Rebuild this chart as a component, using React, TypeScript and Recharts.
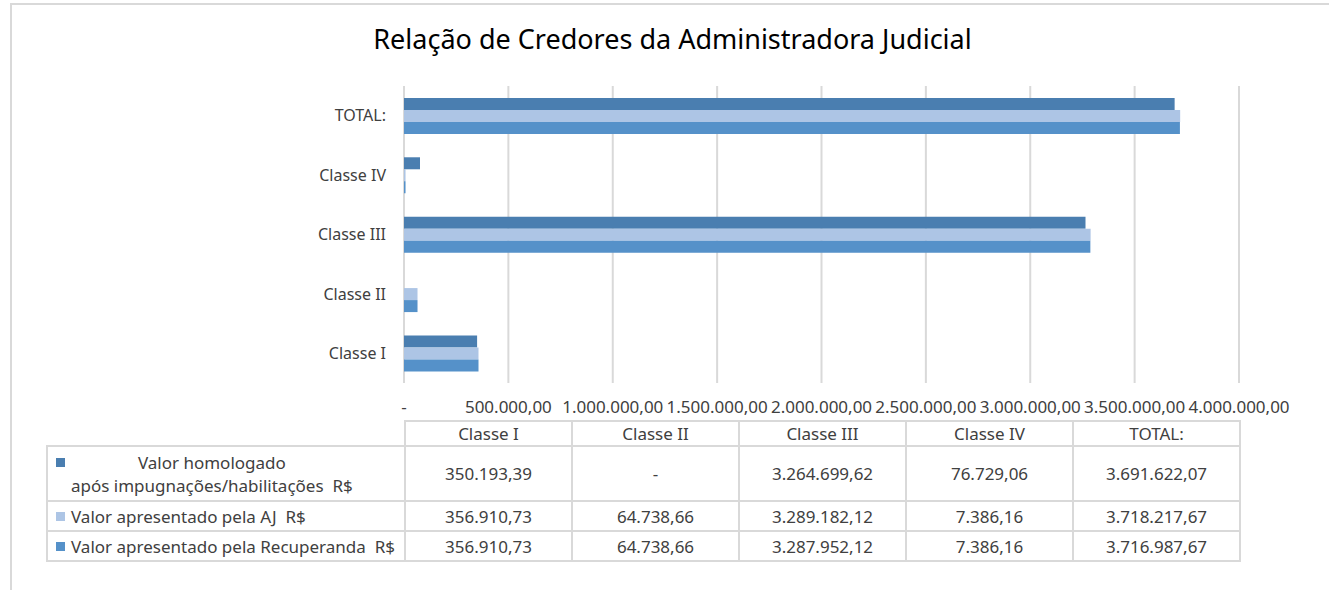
import React from "react";
import {
  BarChart,
  Bar,
  XAxis,
  YAxis,
  CartesianGrid,
} from "recharts";

const categories = ["Classe I", "Classe II", "Classe III", "Classe IV", "TOTAL:"];
const homologado = [350193.39, 0, 3264699.62, 76729.06, 3691622.07];
const apresentadoAJ = [356910.73, 64738.66, 3289182.12, 7386.16, 3718217.67];
const apresentadoRecuperanda = [356910.73, 64738.66, 3287952.12, 7386.16, 3716987.67];
const xTicks = [0, 500000, 1000000, 1500000, 2000000, 2500000, 3000000, 3500000, 4000000];

const SERIES = [
  { key: "homologado", values: homologado, color: "#4A7EB0", label: ["Valor homologado", "após impugnações/habilitações  R$"] },
  { key: "aj", values: apresentadoAJ, color: "#ADC5E5", label: ["Valor apresentado pela AJ  R$"] },
  { key: "recuperanda", values: apresentadoRecuperanda, color: "#5591C9", label: ["Valor apresentado pela Recuperanda  R$"] },
];

const FONT = "'Noto Sans', 'Open Sans', sans-serif";
const TEXT = "#404040";
const BORDER = "#d9d9d9";

// pt-BR money format, zero shown as a dash like the spreadsheet
function fmt(n: number) {
  if (n === 0) return "-";
  const [int, dec] = n.toFixed(2).split(".");
  return int.replace(/\B(?=(\d{3})+(?!\d))/g, ".") + "," + dec;
}

const data = categories.map((name, i) => ({
  name,
  homologado: homologado[i],
  aj: apresentadoAJ[i],
  recuperanda: apresentadoRecuperanda[i],
}));

const cell: React.CSSProperties = {
  border: `2px solid ${BORDER}`,
  textAlign: "center",
  padding: 0,
  whiteSpace: "pre",
};

export default function App() {
  return (
    <div
      style={{
        position: "absolute",
        left: 0,
        top: 0,
        width: 1329,
        height: 590,
        background: "#fff",
        fontFamily: FONT,
        color: TEXT,
        overflow: "hidden",
      }}
    >
      {/* chart frame edges */}
      <div style={{ position: "absolute", left: 10, top: 3, right: 0, height: 2, background: BORDER }} />
      <div style={{ position: "absolute", left: 10, top: 3, bottom: 0, width: 2, background: BORDER }} />

      <div
        style={{
          position: "absolute",
          top: 20,
          left: 0,
          width: 1345,
          textAlign: "center",
          fontSize: 27,
          color: "#000",
        }}
      >
        Relação de Credores da Administradora Judicial
      </div>

      <div style={{ position: "absolute", left: 0, top: 0 }}>
        <BarChart
          width={1329}
          height={430}
          data={data}
          layout="vertical"
          margin={{ top: 86, right: 90, left: 0, bottom: 17 }}
          barCategoryGap="20%"
          barGap={0}
        >
          <CartesianGrid horizontal={false} stroke={BORDER} strokeWidth={2} />
          <XAxis
            type="number"
            domain={[0, 4000000]}
            ticks={xTicks}
            interval={0}
            tickFormatter={(v: number) => fmt(v)}
            axisLine={false}
            tickLine={false}
            tickMargin={12}
            height={30}
            tick={{ fontSize: 17, fill: TEXT, fontFamily: FONT }}
          />
          <YAxis
            type="category"
            dataKey="name"
            reversed
            width={404}
            axisLine={false}
            tickLine={false}
            tickMargin={12}
            tick={{ fontSize: 16, fill: TEXT, fontFamily: FONT }}
          />
          {SERIES.map((s) => (
            <Bar key={s.key} dataKey={s.key} fill={s.color} isAnimationActive={false} />
          ))}
        </BarChart>
      </div>

      <table
        style={{
          position: "absolute",
          left: 46,
          top: 420,
          borderCollapse: "collapse",
          fontSize: 17,
          fontFamily: FONT,
          color: TEXT,
          tableLayout: "fixed",
        }}
      >
        <colgroup>
          <col style={{ width: 358 }} />
          {categories.map((c) => (
            <col key={c} style={{ width: 167 }} />
          ))}
        </colgroup>
        <tbody>
          <tr style={{ height: 25 }}>
            <td style={{ border: "none", borderBottom: `2px solid ${BORDER}` }} />
            {categories.map((c) => (
              <td key={c} style={cell}>
                {c}
              </td>
            ))}
          </tr>
          {SERIES.map((s, r) => (
            <tr key={s.key} style={{ height: r === 0 ? 55 : 30 }}>
              <td style={{ ...cell, textAlign: "left", paddingLeft: 8 }}>
                <div style={{ display: "flex", alignItems: r === 0 ? "flex-start" : "center" }}>
                  <span
                    style={{
                      display: "inline-block",
                      width: 9,
                      height: 9,
                      background: s.color,
                      marginRight: 6,
                      marginTop: r === 0 ? 7 : 0,
                      flex: "none",
                    }}
                  />
                  <div style={{ textAlign: r === 0 ? "center" : "left", lineHeight: "23px" }}>
                    {s.label.map((l) => (
                      <div key={l}>{l}</div>
                    ))}
                  </div>
                </div>
              </td>
              {s.values.map((v, i) => (
                <td key={i} style={cell}>
                  {fmt(v)}
                </td>
              ))}
            </tr>
          ))}
        </tbody>
      </table>
    </div>
  );
}
